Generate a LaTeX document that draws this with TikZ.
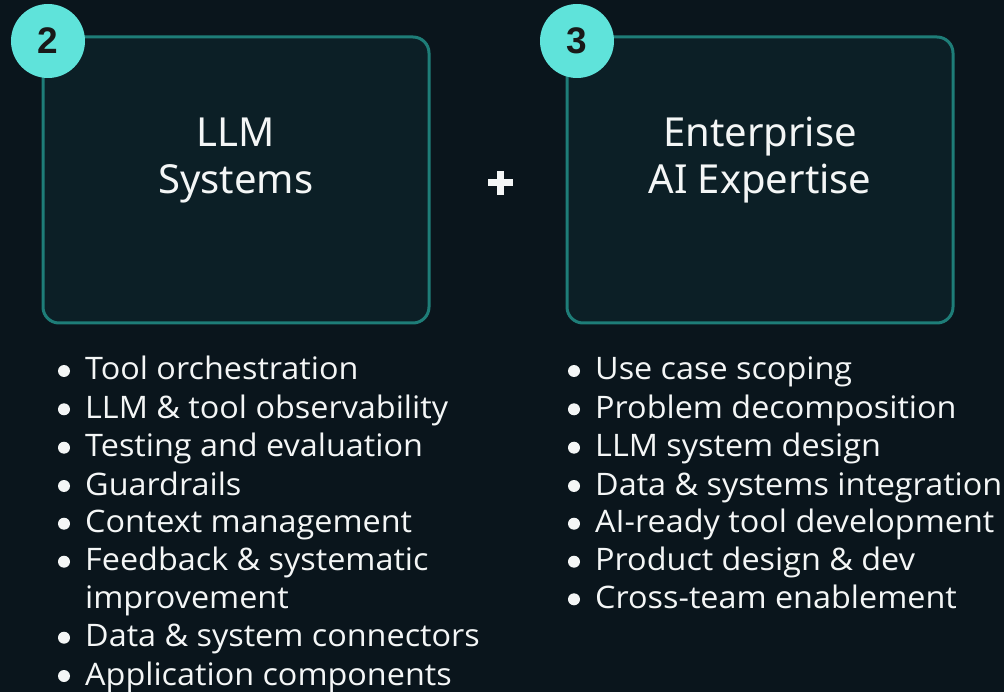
\documentclass[tikz,border=0pt]{standalone}
\usepackage{fontspec}
\setmainfont{Open Sans}
\newfontfamily\itemfont[FakeStretch=1.044]{Open Sans}
\newfontfamily\titlefont{Noto Sans}
\newfontfamily\numfont{Liberation Sans}
\definecolor{bgc}{HTML}{0A151C}
\definecolor{cardfill}{HTML}{0C1F26}
\definecolor{cardline}{HTML}{1E7D78}
\definecolor{badgec}{HTML}{5FE3DA}
\definecolor{txt}{HTML}{F4F6F6}
\tikzset{
  card/.style={draw=cardline, line width=3pt, fill=cardfill, rounded corners=16pt,
    minimum width=386pt, minimum height=286pt, inner sep=0pt},
  badge/.style={circle, fill=badgec, minimum size=74pt, inner sep=0pt,
    font=\numfont\bfseries\fontsize{37}{37}\selectfont, text=black!90},
  ttl/.style={anchor=base, text=txt, inner sep=0pt, font=\titlefont\fontsize{40}{46}\selectfont},
  item/.style={anchor=base west, text=txt, inner sep=0pt, font=\itemfont\fontsize{31}{36}\selectfont},
  dot/.style={circle, fill=txt, minimum size=12pt, inner sep=0pt, outer sep=0pt},
}
\begin{document}
\begin{tikzpicture}[x=1pt,y=-1pt]
\fill[bgc] (0,0) rectangle (1004,692);
\useasboundingbox (0,0) rectangle (1004,692);
% cards
\node[card] (c2) at (236,180) {};
\node[card] (c3) at (760,180) {};
\node[badge] (b2) at (48,41) {2};
\node[badge] (b3) at (577,41) {3};
% titles
\node[ttl] (t2a) at (236,147) {LLM};
\node[ttl] (t2b) at (236,194) {Systems};
\node[ttl] (t3a) at (760,147) {Enterprise};
\node[ttl] (t3b) at (760,194) {AI Expertise};
% plus
\fill[txt] (488,179.5) rectangle (513,186.5);
\fill[txt] (497,171) rectangle (504,195);
% left list
\foreach \n/\y/\t in {1/380/Tool orchestration, 2/418.3/LLM \& tool observability,
  3/456.7/Testing and evaluation, 4/495/Guardrails, 5/532.7/Context management,
  6/570.7/Feedback \& systematic, 8/646.7/Data \& system connectors, 9/685/Application components}{
  \node[item] (l\n) at (85,\y) {\t};
  \node[dot] (ld\n) at (64,\y-9) {};
}
\node[item] (l7) at (85,608.3) {improvement};
% right list
\foreach \n/\y/\t in {1/380/Use case scoping, 2/418.3/Problem decomposition,
  3/456.7/LLM system design, 4/495/Data \& systems integration, 5/532.7/AI-ready tool development,
  6/570.7/Product design \& dev, 7/608.3/Cross-team enablement}{
  \node[item] (r\n) at (595,\y) {\t};
  \node[dot] (rd\n) at (574,\y-9) {};
}
\end{tikzpicture}
\end{document}
